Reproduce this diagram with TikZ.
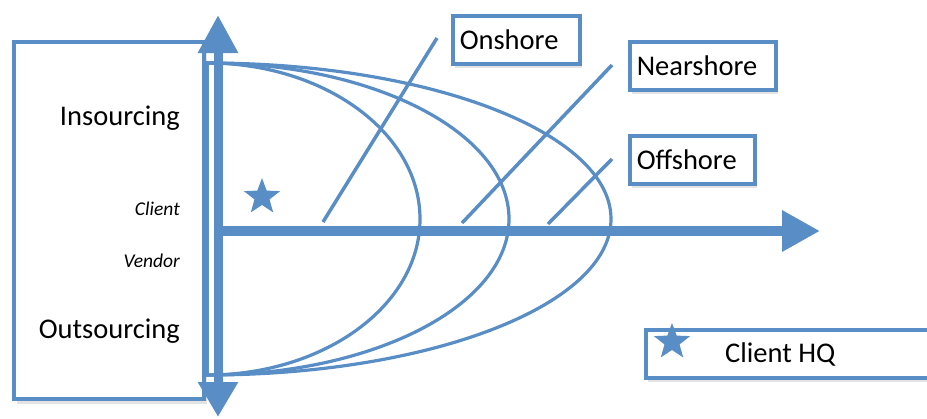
\documentclass[tikz,border=0pt]{standalone}
\usepackage{fontspec}
\setmainfont{Carlito}
\definecolor{ShoreBlue}{RGB}{88,141,198}
\usetikzlibrary{arrows.meta, shapes.geometric, positioning, shadows}

\begin{document}
\begin{tikzpicture}[
  x=1pt, y=-1pt,
  bigtext/.style={font=\fontsize{28.5}{34}\selectfont},
  smalltext/.style={font=\fontsize{19.5}{23}\selectfont\itshape},
  sidelabel/.style={anchor=base east, inner sep=0pt},
  shorebox/.style={draw=ShoreBlue, line width=3.5pt, fill=white, anchor=north west,
    inner xsep=7pt, inner ysep=0pt, align=left, minimum height=48pt,
    drop shadow={opacity=0.22, shadow xshift=2pt, shadow yshift=-4pt}},
  reach/.style={draw=ShoreBlue, line width=3.2pt},
  leader/.style={draw=ShoreBlue, line width=3.5pt},
  hqstar/.style={star, star points=5, star point ratio=2.4, fill=ShoreBlue,
    minimum size=38pt, inner sep=0pt}
]
\useasboundingbox (0,0) rectangle (927,418);

\node[
  draw=ShoreBlue,
  fill=white,
  line width=3.5pt,
  anchor=north west,
  minimum width=190pt,
  minimum height=357pt,
  drop shadow={opacity=0.22, shadow xshift=3pt, shadow yshift=-5pt}
] (sidebox) at (12,40) {};

\node[sidelabel, bigtext] (insourcing) at (180,125) {Insourcing};
\node[sidelabel, smalltext] (client) at (180,215) {Client};
\node[sidelabel, smalltext] (vendor) at (180,267) {Vendor};
\node[sidelabel, bigtext] (outsourcing) at (180,338) {Outsourcing};

\foreach \rx in {213,302,404}
  \draw[reach] (207,63) arc[start angle=-90, end angle=90, x radius=\rx, y radius=156] -- cycle;

\coordinate (ytop) at (218,15);
\coordinate (ybot) at (218,417);
\coordinate (xstart) at (222,231);
\coordinate (xtip) at (820,231);
\draw[ShoreBlue, line width=9pt, {Triangle[length=38pt,width=38pt]}-{Triangle[length=35pt,width=38pt]}] (ytop) -- (ybot);
\draw[ShoreBlue, line width=10pt, -{Triangle[length=38pt,width=39pt]}] (xstart) -- (xtip);

\coordinate (onfoot) at (323,222);
\coordinate (ontop) at (437,38);
\coordinate (nearfoot) at (462,223);
\coordinate (neartop) at (612,65);
\coordinate (offfoot) at (548,224);
\coordinate (offtop) at (612,159);
\draw[leader] (onfoot) -- (ontop);
\draw[leader] (nearfoot) -- (neartop);
\draw[leader] (offfoot) -- (offtop);

\node[shorebox, bigtext, text width=113pt] (onshore) at (451,14) {Onshore};
\node[shorebox, bigtext, text width=132pt] (nearshore) at (628,40) {Nearshore};
\node[shorebox, bigtext, text width=111pt] (offshore) at (628,134) {Offshore};

\node[hqstar] (clientstar) at (262,197) {};

\node[shorebox, minimum width=300pt] (hqbox) at (644,328) {};
\node[bigtext, anchor=base west, inner sep=0pt] (hqlabel) at (725,362) {Client HQ};
\node[hqstar] (hqstar) at (672,342) {};
\end{tikzpicture}
\end{document}
